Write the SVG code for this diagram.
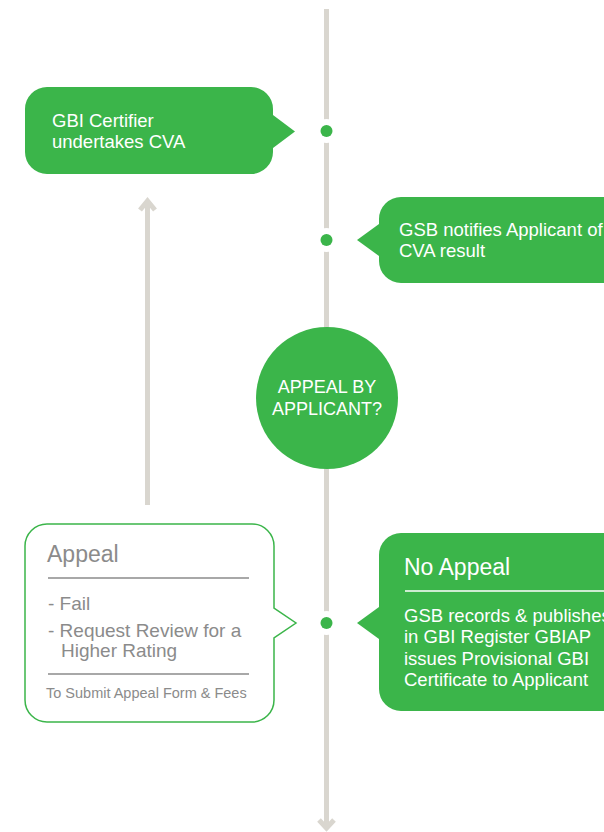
<svg xmlns="http://www.w3.org/2000/svg" width="604" height="832" viewBox="0 0 604 832">
<style>
.line{stroke:#d9d6cf;stroke-width:5;fill:none}
.bub{fill:#3bb54a}
.wt{fill:#ffffff;font-family:"Liberation Sans",Arial,sans-serif}
.gt{fill:#8b8b8b;font-family:"Liberation Sans",Arial,sans-serif}
.dot{fill:#3bb54a}
.halo{fill:#ffffff}
</style>
<rect width="604" height="832" fill="#ffffff"/>
<g id="connectors">
  <line class="line" x1="326.5" y1="9" x2="326.5" y2="827"/>
  <polyline class="line" points="319,820 326.5,828 334,820" stroke-linejoin="miter"/>
  <line class="line" x1="147.5" y1="505" x2="147.5" y2="201"/>
  <polyline class="line" points="140,210 147.5,201 155,210" stroke-linejoin="miter"/>
  <circle class="halo" cx="326.5" cy="131" r="12"/>
  <circle class="dot" cx="326.5" cy="131" r="6"/>
  <circle class="halo" cx="326.5" cy="240" r="12"/>
  <circle class="dot" cx="326.5" cy="240" r="6"/>
  <circle class="halo" cx="326.5" cy="623" r="12"/>
  <circle class="dot" cx="326.5" cy="623" r="6"/>
</g>
<g id="certifier">
  <path class="bub" d="M47,87 H251 A22,22 0 0 1 273,109 V115 L295,131.5 L273,148 V152 A22,22 0 0 1 251,174 H47 A22,22 0 0 1 25,152 V109 A22,22 0 0 1 47,87 Z"/>
  <text class="wt" font-size="18.5" x="52" y="127">GBI Certifier</text>
  <text class="wt" font-size="18.5" x="52" y="148">undertakes CVA</text>
</g>
<g id="notify">
  <path class="bub" d="M401,197 H620 V283 H401 A22,22 0 0 1 379,261 V256 L357,240 L379,224 V219 A22,22 0 0 1 401,197 Z"/>
  <text class="wt" font-size="18.5" x="399" y="236">GSB notifies Applicant of</text>
  <text class="wt" font-size="18.5" x="399" y="257">CVA result</text>
</g>
<g id="decision">
  <circle class="bub" cx="327" cy="398" r="71"/>
  <text class="wt" font-size="18" text-anchor="middle" x="327" y="393">APPEAL BY</text>
  <text class="wt" font-size="18" text-anchor="middle" x="327" y="415">APPLICANT?</text>
</g>
<g id="appeal">
  <path d="M47,524 H252 A22,22 0 0 1 274,546 V608 L296,623 L274,638 V700 A22,22 0 0 1 252,722 H47 A22,22 0 0 1 25,700 V546 A22,22 0 0 1 47,524 Z" fill="#ffffff" stroke="#3bb54a" stroke-width="1.5"/>
  <text class="gt" font-size="23" x="47" y="562">Appeal</text>
  <line x1="48" y1="578" x2="249" y2="578" stroke="#8b8b8b" stroke-width="1.3"/>
  <text class="gt" font-size="19" x="48" y="610">- Fail</text>
  <text class="gt" font-size="19" x="48" y="637">- Request Review for a</text>
  <text class="gt" font-size="19" x="61" y="657">Higher Rating</text>
  <line x1="48" y1="674" x2="249" y2="674" stroke="#8b8b8b" stroke-width="1.3"/>
  <text class="gt" font-size="14.5" x="46" y="698" fill="#9a9a9a">To Submit Appeal Form &amp; Fees</text>
</g>
<g id="noappeal">
  <path class="bub" d="M401,533 H620 V711 H401 A22,22 0 0 1 379,689 V639 L357,623 L379,607 V555 A22,22 0 0 1 401,533 Z"/>
  <text class="wt" font-size="23" x="404" y="575">No Appeal</text>
  <line x1="405" y1="591" x2="604" y2="591" stroke="#ffffff" stroke-width="1.3"/>
  <text class="wt" font-size="18.5" x="404" y="622">GSB records &amp; publishes</text>
  <text class="wt" font-size="18.5" x="404" y="643">in GBI Register GBIAP</text>
  <text class="wt" font-size="18.5" x="404" y="664.5">issues Provisional GBI</text>
  <text class="wt" font-size="18.5" x="404" y="686">Certificate to Applicant</text>
</g>
</svg>
